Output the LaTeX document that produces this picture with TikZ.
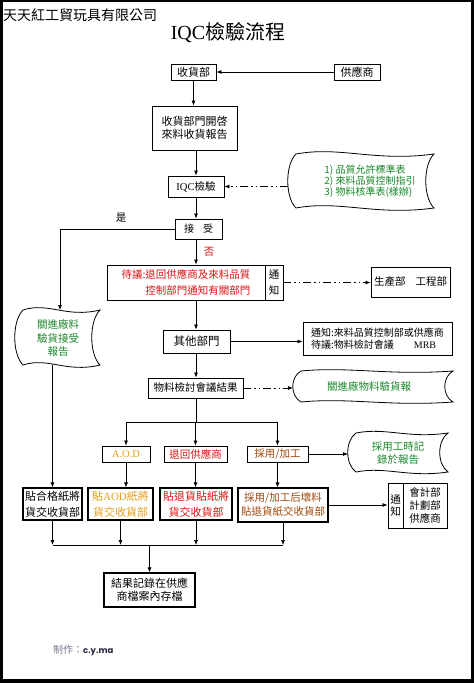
\documentclass[tikz,border=0pt]{standalone}
\usepackage{fontspec}
\setmainfont{Liberation Serif}
\newfontfamily\cjk{Noto Sans CJK TC}
\newfontfamily\popp{Poppins}
\usetikzlibrary{arrows.meta,calc}
\definecolor{tgreen}{RGB}{25,135,40}
\definecolor{tred}{RGB}{220,20,20}
\definecolor{torange}{RGB}{228,160,30}
\definecolor{tbrown}{RGB}{160,70,10}
\definecolor{tgray}{RGB}{120,120,145}
\definecolor{tnavy}{RGB}{35,35,60}
% tape-like document shape: name, x0, y0, x1, y1 (pixel coordinates, y down)
\newcommand\tapedoc[5]{%
  \node[inner sep=0pt,outer sep=0pt,minimum width={#4-#2},minimum height={#5-#3}] (#1) at ({(#2+#4)/2},{(#3+#5)/2}) {};
  \draw[docline] (#2+8,#3)
    .. controls ({#2+8+0.3*(#4-#2)},{#3-0.15*(#5-#3)}) and ({#2+0.6*(#4-#2)},{#3+0.15*(#5-#3)}) .. (#4,#3)
    .. controls (#4-11,{#3+0.2*(#5-#3)}) and (#4-11,{#5-0.2*(#5-#3)}) .. (#4,#5)
    .. controls ({#2+0.6*(#4-#2)},{#5+0.15*(#5-#3)}) and ({#2+8+0.3*(#4-#2)},{#5-0.15*(#5-#3)}) .. (#2+8,#5)
    .. controls (#2-3,{#5-0.2*(#5-#3)}) and (#2-3,{#3+0.2*(#5-#3)}) .. cycle;}
\begin{document}
\begin{tikzpicture}[x=1pt,y=-1pt,
  box/.style={draw,line width=0.9pt,fill=white,inner sep=0pt,align=center,font=\cjk\fontsize{11}{13}\selectfont},
  bbox/.style={box,line width=1.1pt,font=\cjk\fontsize{11}{16}\selectfont},
  docline/.style={line width=0.8pt},
  doctext/.style={inner sep=0pt,align=center,text=tgreen,font=\cjk\fontsize{10.5}{13.5}\selectfont},
  arr/.style={-{Latex[length=5pt,width=4pt]},line width=0.7pt},
  dd/.style={arr,dash pattern=on 8pt off 3pt on 1.5pt off 3pt on 1.5pt off 3pt},
  lbl/.style={inner sep=0pt,font=\cjk\fontsize{10.5}{12}\selectfont}]
\useasboundingbox (0,0) rectangle (474,683);
% page frame
\fill[black] (0,0) rectangle (474,683);
\fill[white] (3,2) rectangle (471,679);

% headings
\node[inner sep=0pt,anchor=west,font=\cjk\fontsize{14}{16}\selectfont] (company) at (3,15) {天天紅工貿玩具有限公司};
\node[inner sep=0pt,font=\fontsize{20}{22}\selectfont] (title) at (228,33) {IQC{\cjk 檢驗流程}};

% top part
\node[box,minimum width=45,minimum height=16] (recv) at (193.5,72) {收貨部};
\node[box,minimum width=46,minimum height=16] (supp) at (357,72) {供應商};
\node[box,minimum width=85,minimum height=44] (report) at (194.5,128) {收貨部門開啓\\來料收貨報告};
\node[box,minimum width=56,minimum height=21,font=\fontsize{10.5}{12}\selectfont] (iqc) at (196,186.5) {IQC{\cjk 檢驗}};
\tapedoc{doc1}{288}{154}{434}{208}
\node[doctext,align=left,font=\cjk\fontsize{10}{11}\selectfont] (doc1t) at (370,181) {1) 品質允許標準表\\2) 來料品質控制指引\\3) 物料核準表(樣辦)};
\node[box,minimum width=47,minimum height=20,font=\cjk\fontsize{10}{12}\selectfont] (accept) at (198.5,229) {接\hspace{9pt}受};
\node[lbl] (yes) at (121,218) {是};
\node[lbl,text=tred] (no) at (209,252) {否};

% pending / notice
\node[box,minimum width=158,minimum height=35,align=right,text=tred,font=\cjk\fontsize{10.5}{16}\selectfont] (wait) at (186,282.5) {待議:退回供應商及來料品質\\控制部門通知有關部門};
\node[box,minimum width=18,minimum height=35,font=\cjk\fontsize{10.5}{16}\selectfont] (notice1) at (274,282.5) {通\\知};
\node[box,minimum width=79,minimum height=30,font=\cjk\fontsize{10.5}{12}\selectfont] (prod) at (410.5,282) {生產部\hspace{10pt}工程部};
\tapedoc{doc2}{15}{310}{100}{365}
\node[doctext] (doc2t) at (58,338) {關進廠料\\驗貨接受\\報告};

\node[box,minimum width=67,minimum height=23,font=\cjk\fontsize{11.5}{13}\selectfont] (other) at (196.5,341.5) {其他部門};
\node[box,minimum width=149,minimum height=33,align=left,font=\cjk\fontsize{10}{12}\selectfont] (notice3) at (377.5,338.5) {通知:來料品質控制部或供應商\\待議:物料檢討會議\hspace{20pt}{\rmfamily MRB}};
\node[box,minimum width=95,minimum height=20,font=\cjk\fontsize{10.5}{12}\selectfont] (mrbres) at (195.5,388) {物料檢討會議結果};
\tapedoc{doc3}{293}{371}{453}{402}
\node[doctext] (doc3t) at (369,386) {關進廠物料驗貨報};

% decisions
\node[box,minimum width=48,minimum height=16,text=torange,font=\fontsize{10.5}{12}\selectfont] (aod) at (126,454) {A.O.D};
\node[box,minimum width=63,minimum height=16,text=tred,font=\cjk\fontsize{10.5}{12}\selectfont] (retn) at (195.5,454) {退回供應商};
\node[box,minimum width=61,minimum height=16,text=tbrown,font=\cjk\fontsize{10.5}{12}\selectfont] (proc) at (277.5,454) {採用/加工};
\tapedoc{doc4}{348}{433}{448}{472}
\node[doctext] (doc4t) at (398,453) {採用工時記\\錄於報告};

% bottom boxes
\node[bbox,minimum width=59,minimum height=32] (b1) at (52.5,504) {貼合格紙將\\貨交收貨部};
\node[bbox,minimum width=65,minimum height=32,text=torange] (b2) at (120.5,504) {貼{\rmfamily AOD}紙將\\貨交收貨部};
\node[bbox,minimum width=72,minimum height=32,text=tred] (b3) at (196,504) {貼退貨貼紙將\\貨交收貨部};
\node[bbox,minimum width=90,minimum height=34,text=tbrown,font=\cjk\fontsize{10.5}{14}\selectfont] (b4) at (283,505) {採用/加工后壞料\\貼退貨紙交收貨部};
\node[box,minimum width=15,minimum height=45,font=\cjk\fontsize{10.5}{12}\selectfont] (notice2) at (395.5,505.5) {通\\知};
\node[box,minimum width=44,minimum height=45,font=\cjk\fontsize{10.5}{13}\selectfont] (depts) at (425,505.5) {會計部\\計劃部\\供應商};
\node[bbox,minimum width=91,minimum height=34,font=\cjk\fontsize{11}{13}\selectfont] (result) at (149.5,590) {結果記錄在供應\\商檔案內存檔};

\node[inner sep=0pt,anchor=west] (credit) at (53,650) {{\cjk\fontsize{10}{12}\selectfont\color{tgray}制作：}{\popp\bfseries\fontsize{8.5}{10}\selectfont\color{tnavy}c.y.ma}};

% connectors
\draw[arr] (supp) -- (recv);
\draw[arr] (recv.south) -- (recv.south |- report.north);
\draw[arr] (iqc.north |- report.south) -- (iqc.north);
\draw[dd] (iqc.east -| doc1.west) -- (iqc.east);
\draw[arr] (iqc.south) -- (iqc.south |- accept.north);
\coordinate (yesturn) at (60,229);
\draw[arr] (accept.west) -- (yesturn) -- (yesturn |- doc2.north);
\draw[arr] (iqc.south |- accept.south) -- (iqc.south |- wait.north);
\draw[dd] (notice1.east) -- (notice1.east -| prod.west);
\draw[arr] (iqc.south |- wait.south) -- (iqc.south |- other.north);
\draw[arr] (other.east) -- (other.east -| notice3.west);
\draw[arr] (iqc.south |- other.south) -- (iqc.south |- mrbres.north);
\draw[dd] (mrbres.east) -- (mrbres.east -| doc3.west);
\coordinate (j1) at (196,422);
\draw[line width=0.7pt] (iqc.south |- mrbres.south) -- (j1);
\draw[line width=0.7pt] (aod.north |- j1) -- (proc.north |- j1);
\draw[arr] (aod.north |- j1) -- (aod.north);
\draw[arr] (retn.north |- j1) -- (retn.north);
\draw[arr] (proc.north |- j1) -- (proc.north);
\draw[arr] (proc.east) -- (proc.east -| doc4.west);
\draw[arr] (b1.north |- doc2.south) -- (b1.north);
\draw[arr] (aod.south) -- (aod.south |- b2.north);
\draw[arr] (retn.south) -- (retn.south |- b3.north);
\draw[arr] (proc.south) -- (proc.south |- b4.north);
\draw[arr] (b4.east) -- (b4.east -| notice2.west);
\coordinate (j2) at (149.5,545);
\draw[line width=0.7pt] (b1.south |- j2) -- (b4.south |- j2);
\draw[arr] (b1.south) -- (b1.south |- j2);
\draw[arr] (b2.south) -- (b2.south |- j2);
\draw[arr] (b3.south) -- (b3.south |- j2);
\draw[arr] (b4.south) -- (b4.south |- j2);
\draw[arr] (j2) -- (result.north);
\end{tikzpicture}
\end{document}
